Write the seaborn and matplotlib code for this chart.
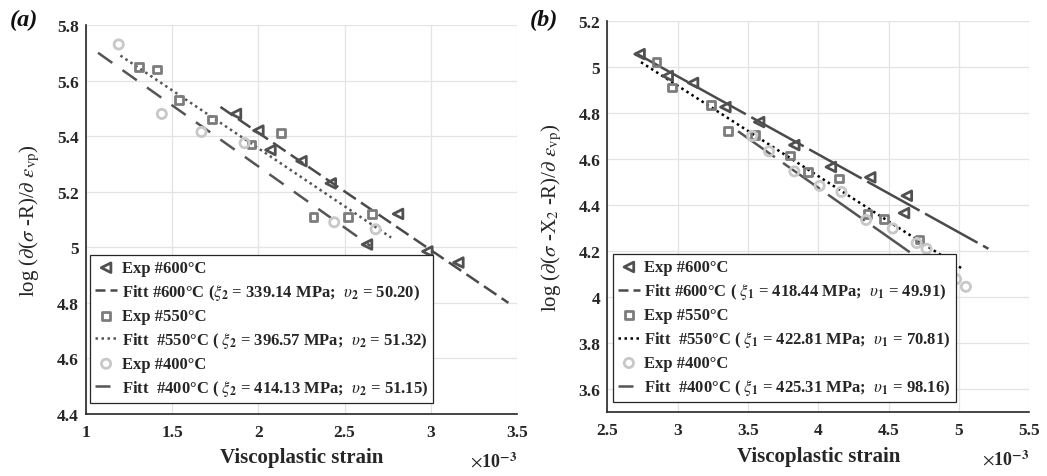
import matplotlib
matplotlib.use("Agg")
import matplotlib.pyplot as plt
import seaborn as sns

# ---- panel (a): log(d(sigma-R)/d eps_vp) vs viscoplastic strain (x 1e-3)
a600_x = [1.87, 2.00, 2.07, 2.25, 2.42, 2.63, 2.81, 2.98, 3.16]
a600_y = [5.48, 5.42, 5.35, 5.31, 5.23, 5.01, 5.12, 4.985, 4.945]
a550_x = [1.31, 1.41, 1.54, 1.73, 1.96, 2.13, 2.32, 2.52, 2.66]
a550_y = [5.65, 5.64, 5.53, 5.46, 5.37, 5.41, 5.11, 5.11, 5.12]
a400_x = [1.19, 1.44, 1.67, 1.92, 2.44, 2.68]
a400_y = [5.73, 5.48, 5.415, 5.375, 5.09, 5.065]

a_fit600_x = [1.78, 3.45]
a_fit600_y = [5.505, 4.80]
a_fit550_x = [1.20, 2.77]
a_fit550_y = [5.69, 5.035]
a_fit400_x = [1.07, 2.65]
a_fit400_y = [5.70, 5.005]

# ---- panel (b): log(d(sigma-X2-R)/d eps_vp) vs viscoplastic strain (x 1e-3)
b600_x = [2.73, 2.93, 3.11, 3.34, 3.58, 3.83, 4.09, 4.37, 4.61, 4.63]
b600_y = [5.055, 4.96, 4.93, 4.825, 4.76, 4.66, 4.565, 4.52, 4.365, 4.44]
b550_x = [2.85, 2.96, 3.24, 3.36, 3.55, 3.80, 3.93, 4.15, 4.35, 4.47, 4.72]
b550_y = [5.02, 4.91, 4.835, 4.72, 4.705, 4.615, 4.545, 4.515, 4.36, 4.34, 4.25]
b400_x = [3.53, 3.65, 3.83, 4.01, 4.165, 4.34, 4.53, 4.70, 4.77, 4.98, 5.05]
b400_y = [4.70, 4.633, 4.546, 4.483, 4.457, 4.335, 4.298, 4.235, 4.21, 4.078, 4.045]

b_fit600_x = [2.70, 5.21]
b_fit600_y = [5.06, 4.21]
b_fit550_x = [2.74, 5.02]
b_fit550_y = [5.02, 4.125]
b_fit400_x = [3.43, 5.00]
b_fit400_y = [4.72, 4.045]

a_labels = [
    "Exp #600°C",
    "Fitt #600°C ($\\xi_\\mathbf{2}$ = 339.14 MPa;  $\\upsilon_\\mathbf{2}$ = 50.20)",
    "Exp #550°C",
    "Fitt  #550°C ( $\\xi_\\mathbf{2}$ = 396.57 MPa;  $\\upsilon_\\mathbf{2}$ = 51.32)",
    "Exp #400°C",
    "Fitt  #400°C ( $\\xi_\\mathbf{2}$ = 414.13 MPa;  $\\upsilon_\\mathbf{2}$ = 51.15)",
]
b_labels = [
    "Exp #600°C",
    "Fitt #600°C ( $\\xi_\\mathbf{1}$ = 418.44 MPa;  $\\upsilon_\\mathbf{1}$ = 49.91)",
    "Exp #550°C",
    "Fitt  #550°C ( $\\xi_\\mathbf{1}$ = 422.81 MPa;  $\\upsilon_\\mathbf{1}$ = 70.81)",
    "Exp #400°C",
    "Fitt  #400°C ( $\\xi_\\mathbf{1}$ = 425.31 MPa;  $\\upsilon_\\mathbf{1}$ = 98.16)",
]

a_xticks = [1, 1.5, 2, 2.5, 3, 3.5]
a_yticks = [4.4, 4.6, 4.8, 5.0, 5.2, 5.4, 5.6, 5.8]
b_xticks = [2.5, 3, 3.5, 4, 4.5, 5, 5.5]
b_yticks = [3.6, 3.8, 4.0, 4.2, 4.4, 4.6, 4.8, 5.0, 5.2]

sns.set_theme(style="whitegrid")
plt.rcParams["font.family"] = ["Liberation Serif", "DejaVu Serif"]
plt.rcParams["mathtext.fontset"] = "stix"

C_TRI = "#505050"
C_SQ = "#7c7c7c"
C_CIR = "#c8c8c8"
AX_COL = "#262626"


def panel(ax, exp, fits, labels, xticks, yticks, xlim, ylim, ylabel, leg_anchor,
          leg_styles):
    markers = ["<", "s", "o"]
    colors = [C_TRI, C_SQ, C_CIR]
    sizes = [48, 32, 44]
    for (x, y), m, c, s, lbl in zip(exp, markers, colors, sizes, labels[0::2]):
        sns.scatterplot(x=x, y=y, ax=ax, marker=m, s=s, color=c, facecolor="none",
                        edgecolor=c, linewidth=2.0, label=lbl, zorder=3, legend=False)
    for (x, y, c, ls), lbl in zip(fits, labels[1::2]):
        sns.lineplot(x=x, y=y, ax=ax, color=c, linewidth=1.8, linestyle=ls,
                     label=lbl, zorder=2, legend=False)

    ax.set_xlim(*xlim)
    ax.set_ylim(*ylim)
    ax.set_xticks(xticks, [f"{t:g}" for t in xticks], fontweight="bold")
    ax.set_yticks(yticks, [f"{t:g}" for t in yticks], fontweight="bold")
    ax.tick_params(direction="in", length=3, width=0.8, colors=AX_COL,
                   labelsize=12.5)
    ax.tick_params(axis="x", pad=7)
    ax.tick_params(axis="y", pad=5)
    ax.grid(True, color="#e3e3e3", linewidth=0.9)
    ax.set_facecolor("white")
    for side in ["top", "right"]:
        ax.spines[side].set_visible(False)
    for side in ["left", "bottom"]:
        ax.spines[side].set_color(AX_COL)
        ax.spines[side].set_linewidth(1.2)

    ax.set_xlabel("Viscoplastic strain", fontsize=15, fontweight="bold", color=AX_COL)
    ax.xaxis.set_label_coords(0.5, -0.085)
    ax.set_ylabel(ylabel, fontsize=15, color=AX_COL)
    ax.yaxis.set_label_coords(-0.103, 0.5)
    ax.text(1.0, -0.12, "$\\times$10$^{\\mathbf{-3}}$", transform=ax.transAxes,
            ha="right", va="center", fontsize=13, fontweight="bold", color=AX_COL)

    # legend in the original order: Exp / Fitt pairs
    handles, lbls = ax.get_legend_handles_labels()
    lookup = dict(zip(lbls, handles))
    leg = ax.legend([lookup[l] for l in labels], labels, loc="lower left",
                    bbox_to_anchor=leg_anchor, borderaxespad=0,
                    prop={"weight": "bold", "size": 12}, handlelength=1.35,
                    handletextpad=0.25, labelspacing=0.36, borderpad=0.3,
                    fancybox=False, framealpha=1, edgecolor=AX_COL)
    leg.get_frame().set_linewidth(0.9)
    leg.set_zorder(5)
    # legend samples use short dash patterns
    for line, ls in zip(leg.get_lines(), leg_styles):
        line.set_linestyle(ls)


fig = plt.figure(figsize=(10.47, 4.77), dpi=100)
ax_a = fig.add_axes([0.0821, 0.130, 0.4117, 0.8155])
ax_b = fig.add_axes([0.580, 0.1335, 0.403, 0.821])

panel(ax_a,
      [(a600_x, a600_y), (a550_x, a550_y), (a400_x, a400_y)],
      [(a_fit600_x, a_fit600_y, "#4a4a4a", (0, (6, 2.5))),
       (a_fit550_x, a_fit550_y, "#555555", (0, (1, 1.4))),
       (a_fit400_x, a_fit400_y, "#555555", (0, (7, 5)))],
      a_labels, a_xticks, a_yticks, (1, 3.5), (4.4, 5.8),
      "log ($\\partial$($\\sigma$ -R)/$\\partial$ $\\epsilon_{\\rm vp}$)",
      (0.009, 0.028),
      [(0, (4, 2)), (0, (1, 1.4)), (0, (6, 6))])

panel(ax_b,
      [(b600_x, b600_y), (b550_x, b550_y), (b400_x, b400_y)],
      [(b_fit600_x, b_fit600_y, "#4a4a4a", (0, (24, 2.5))),
       (b_fit550_x, b_fit550_y, "#000000", (0, (1, 1.4))),
       (b_fit400_x, b_fit400_y, "#555555", (0, (18, 4)))],
      b_labels, b_xticks, b_yticks, (2.5, 5.5), (3.5, 5.2),
      "log ($\\partial$($\\sigma$ -X$_2$ -R)/$\\partial$ $\\epsilon_{\\rm vp}$)",
      (0.0128, 0.0255),
      [(0, (4, 2)), (0, (1, 1.4)), (0, (6, 6))])

fig.text(10 / 1047, 1 - 20 / 477, "(a)", fontsize=17.5, fontweight="bold",
         style="italic", va="center", color="#111111")
fig.text(530 / 1047, 1 - 20 / 477, "(b)", fontsize=17.5, fontweight="bold",
         style="italic", va="center", color="#111111")

fig.savefig("out.png", dpi=100)
